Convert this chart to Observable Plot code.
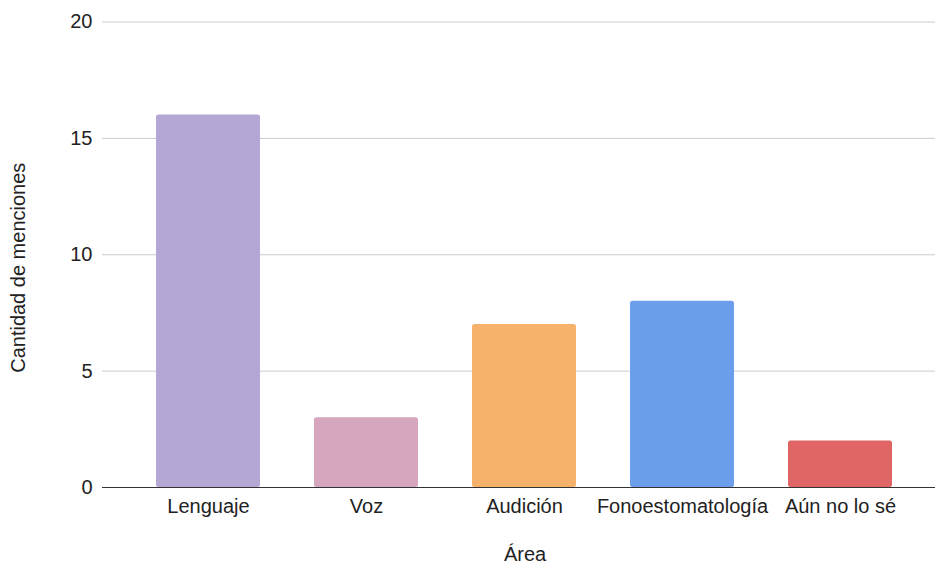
<!DOCTYPE html>
<html>
<head>
<meta charset="utf-8">
<script src="https://cdn.jsdelivr.net/npm/d3@7"></script>
<script src="https://cdn.jsdelivr.net/npm/@observablehq/plot@0.6"></script>
<style>
  html, body { margin: 0; padding: 0; background: #fff; }
  #chart svg { display: block; }
</style>
</head>
<body>
<div id="chart"></div>
<script>
const categories = ["Lenguaje", "Voz", "Audición", "Fonoestomatología", "Aún no lo sé"];
const values = [16, 3, 7, 8, 2];
const colors = ["#b4a7d6", "#d5a6bd", "#f6b26b", "#6d9eeb", "#e06666"];
const yTicks = [0, 5, 10, 15, 20];
const xTitle = "Área";
const yTitle = "Cantidad de menciones";

const data = categories.map((c, i) => ({area: c, value: values[i], color: colors[i]}));

const font = "Arial, 'Liberation Sans', sans-serif";

const chart = Plot.plot({
  width: 935,
  height: 564,
  marginTop: 21.5,
  marginBottom: 77,
  marginLeft: 102,
  marginRight: 0,
  style: {fontFamily: font, fontSize: "20px", color: "#222", background: "#fff"},
  x: {domain: categories, paddingInner: 0.3445, paddingOuter: 0.3, align: 0.55, label: null},
  y: {domain: [0, 20], label: null},
  marks: [
    Plot.gridY(yTicks, {stroke: "#cccccc", strokeOpacity: 1, strokeWidth: 1}),
    Plot.axisY(yTicks, {tickSize: 0, tickPadding: 10, fontSize: 20, label: null}),
    Plot.axisX({tickSize: 0, tickPadding: 11.5, fontSize: 20, label: null}),
    Plot.barY(data, {x: "area", y: "value", fill: "color", rx: 2.5}),
    Plot.ruleY([0], {stroke: "#333", strokeWidth: 1.2}),
    Plot.text([xTitle], {frameAnchor: "bottom", lineAnchor: "middle", textAnchor: "middle", dy: 67, dx: 6, fontSize: 20, fill: "#222"}),
    Plot.text([yTitle], {frameAnchor: "left", rotate: -90, lineAnchor: "middle", textAnchor: "middle", dx: -84, dy: 13, fontSize: 20, fill: "#222"})
  ]
});
document.getElementById("chart").appendChild(chart);
</script>
</body>
</html>
